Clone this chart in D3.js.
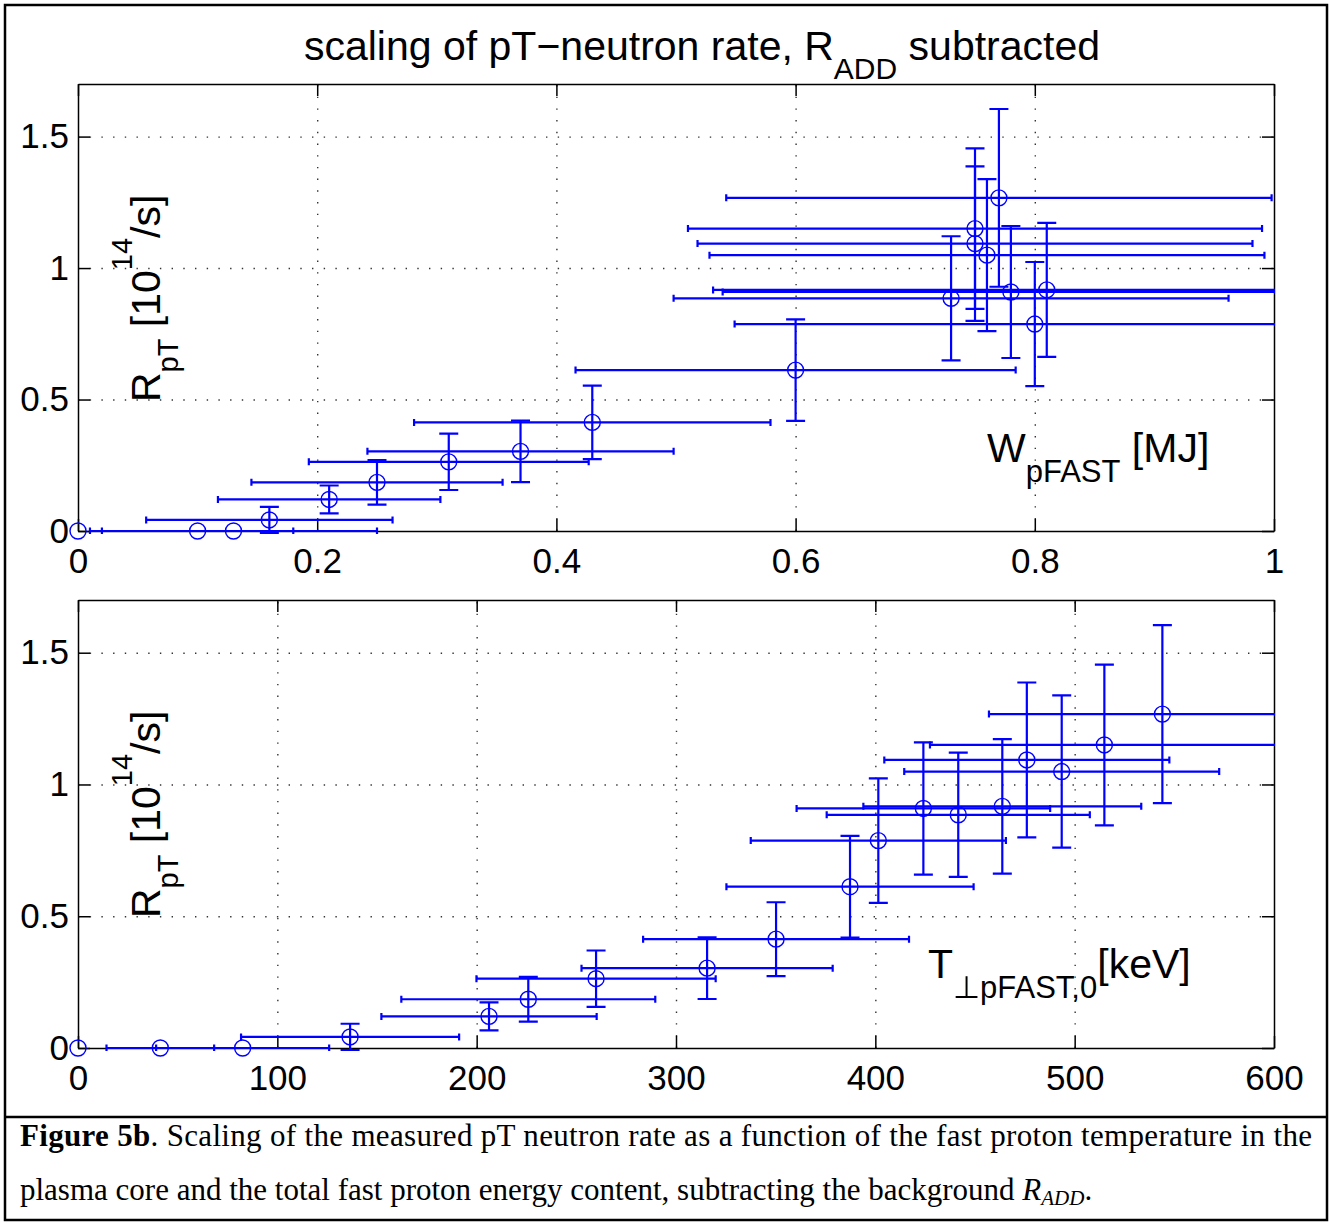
<!DOCTYPE html>
<html lang="en">
<head>
<meta charset="UTF-8">
<title>scaling of pT-neutron rate</title>
<script src="https://d3js.org/d3.v7.min.js"></script>
<style>
  body { margin: 0; background: #fff; }
  svg { display: block; font-family: "Liberation Sans", Arial, Helvetica, sans-serif; }
  .axis path, .axis line { stroke: #000; stroke-width: 1.5; }
  .axis text { font-size: 35px; fill: #000; font-family: "Liberation Sans", Arial, sans-serif; }
  .grid line { stroke: #333; stroke-width: 1.4; stroke-dasharray: 1.4 10.3; }
  .grid path { display: none; }
  .bar { stroke: #0000ff; stroke-width: 2.2; fill: none; }
  .dot { stroke: #0000ff; stroke-width: 1.4; fill: none; }
  .lbl { font-size: 41px; fill: #000; }
  .caption { font-family: "Liberation Serif", "Times New Roman", serif; font-size: 31px; fill: #000; }
</style>
</head>
<body>
<svg width="1330" height="1223"></svg>
<script>
// measured pT neutron rate [10^14/s] and its error (same points in both panels)
const rate    = [0, 0, 0, 0.042, 0.12, 0.185, 0.263, 0.303, 0.413, 0.612, 0.787, 0.885, 0.909, 0.917, 1.049, 1.093, 1.150, 1.267];
const rateErr = [0, 0, 0, 0.05, 0.053, 0.085, 0.107, 0.117, 0.14, 0.193, 0.236, 0.236, 0.251, 0.255, 0.289, 0.294, 0.305, 0.338];

// fast proton energy content W [MJ]
const energy    = [0, 0.10, 0.13, 0.16, 0.21, 0.25, 0.31, 0.37, 0.43, 0.60, 0.80, 0.73, 0.78, 0.81, 0.76, 0.75, 0.75, 0.77];
const energyErr = [0, 0.08, 0.12, 0.103, 0.093, 0.105, 0.117, 0.128, 0.149, 0.184, 0.251, 0.232, 0.241, 0.279, 0.232, 0.232, 0.24, 0.228];

// fast proton temperature T [keV]
const temp    = [0, 41.3, 82.6, 136.5, 206.2, 225.9, 259.9, 315.6, 350.2, 387.3, 401.5, 441.6, 424.1, 463.7, 493.5, 476.0, 514.9, 544.0];
const tempErr = [0, 27, 43.4, 54.7, 54, 63.7, 60, 63, 66.7, 62, 64, 66, 63.6, 69.7, 79, 71.5, 87.5, 87];

const rateTicks   = [0, 0.5, 1, 1.5];
const energyTicks = [0, 0.2, 0.4, 0.6, 0.8, 1];
const tempTicks   = [0, 100, 200, 300, 400, 500, 600];

const svg = d3.select("svg");
const plotW = 1196;
const defs = svg.append("defs");

// outer frame + caption separator
svg.append("rect").attr("x", 5).attr("y", 5).attr("width", 1322).attr("height", 1215)
    .attr("fill", "none").attr("stroke", "#000").attr("stroke-width", 2.5);
svg.append("line").attr("x1", 5).attr("x2", 1327).attr("y1", 1117).attr("y2", 1117)
    .attr("stroke", "#000").attr("stroke-width", 2.5);

function panel(top, h, xs, xe, xDomain, xTicks, id) {
    const g = svg.append("g").attr("transform", "translate(78," + top + ")");
    const x = d3.scaleLinear().domain(xDomain).range([0, plotW]);
    const y = d3.scaleLinear().domain([0, 1.7]).range([h, 0]);

    defs.append("clipPath").attr("id", id).append("rect")
        .attr("x", -3).attr("y", -3).attr("width", plotW + 4).attr("height", h + 6);

    // dotted grid
    g.append("g").attr("class", "grid").attr("transform", "translate(0," + h + ")")
        .call(d3.axisBottom(x).tickValues(xTicks.slice(1, -1)).tickSize(-h).tickFormat(""));
    g.append("g").attr("class", "grid")
        .call(d3.axisLeft(y).tickValues(rateTicks.slice(1)).tickSize(-plotW).tickFormat(""));

    // box with inward ticks
    g.append("g").attr("class", "axis").attr("transform", "translate(0," + h + ")")
        .call(d3.axisBottom(x).tickValues(xTicks).tickSizeInner(-12).tickSizeOuter(0)
            .tickPadding(17).tickFormat(d3.format("~g")));
    g.append("g").attr("class", "axis")
        .call(d3.axisLeft(y).tickValues(rateTicks).tickSizeInner(-12).tickSizeOuter(0)
            .tickPadding(9).tickFormat(d3.format("~g")));
    g.append("g").attr("class", "axis")
        .call(d3.axisTop(x).tickValues(xTicks).tickSizeInner(-12).tickSizeOuter(0).tickFormat(""));
    g.append("g").attr("class", "axis").attr("transform", "translate(" + plotW + ",0)")
        .call(d3.axisRight(y).tickValues(rateTicks).tickSizeInner(-12).tickSizeOuter(0).tickFormat(""));

    const pts = rate.map((r, i) => ({ x: xs[i], xe: xe[i], y: r, ye: rateErr[i] }));
    const bars = g.append("g").attr("clip-path", "url(#" + id + ")");

    // horizontal error bars
    bars.selectAll(".hbar").data(pts.filter(d => d.xe > 0)).join("path")
        .attr("class", "bar")
        .attr("d", d => {
            const x0 = x(d.x - d.xe), x1 = x(d.x + d.xe), yy = y(d.y);
            return "M" + x0 + "," + yy + "H" + x1 +
                "M" + x0 + "," + (yy - 3.5) + "V" + (yy + 3.5) +
                "M" + x1 + "," + (yy - 3.5) + "V" + (yy + 3.5);
        });

    // vertical error bars
    bars.selectAll(".vbar").data(pts.filter(d => d.ye > 0)).join("path")
        .attr("class", "bar")
        .attr("d", d => {
            const xx = x(d.x), y0 = y(d.y - d.ye), y1 = y(d.y + d.ye);
            return "M" + xx + "," + y0 + "V" + y1 +
                "M" + (xx - 9.5) + "," + y0 + "H" + (xx + 9.5) +
                "M" + (xx - 9.5) + "," + y1 + "H" + (xx + 9.5);
        });

    // markers
    g.selectAll(".dot").data(pts).join("circle")
        .attr("class", "dot")
        .attr("cx", d => x(d.x)).attr("cy", d => y(d.y)).attr("r", 8);

    // y label (inside the axes)
    const yl = g.append("text").attr("class", "lbl")
        .attr("transform", "translate(82,318) rotate(-90)");
    yl.append("tspan").text("R");
    yl.append("tspan").attr("font-size", 29).attr("dy", 18).text("pT");
    yl.append("tspan").attr("dy", -18).text(" [10");
    yl.append("tspan").attr("font-size", 29).attr("dy", -28).text("14");
    yl.append("tspan").attr("dy", 28).text("/s]");

    return g;
}

const g1 = panel(84, 447, energy, energyErr, [0, 1], energyTicks, "clipTop");
const g2 = panel(600, 448, temp, tempErr, [0, 600], tempTicks, "clipBottom");

// x labels
const wl = g1.append("text").attr("class", "lbl").attr("x", 909).attr("y", 378);
wl.append("tspan").text("W");
wl.append("tspan").attr("font-size", 31).attr("dy", 20).text("pFAST");
wl.append("tspan").attr("dy", -20).text(" [MJ]");

const tl = g2.append("text").attr("class", "lbl").attr("x", 850).attr("y", 378);
tl.append("tspan").text("T");
tl.append("tspan").attr("font-size", 31).attr("dy", 20).text("\u22A5pFAST,0");
tl.append("tspan").attr("dy", -20).text("[keV]");

// title
const title = svg.append("text").attr("class", "lbl").attr("x", 702).attr("y", 60)
    .attr("text-anchor", "middle");
title.append("tspan").text("scaling of pT\u2212neutron rate, R");
title.append("tspan").attr("font-size", 30).attr("dy", 19).text("ADD");
title.append("tspan").attr("dy", -19).text(" subtracted");

// caption
const c1 = svg.append("text").attr("class", "caption").attr("x", 20).attr("y", 1146)
    .attr("textLength", 1292).attr("lengthAdjust", "spacing");
c1.append("tspan").attr("font-weight", "bold").text("Figure 5b");
c1.append("tspan").text(". Scaling of the measured pT neutron rate as a function of the fast proton temperature in the");

const c2 = svg.append("text").attr("class", "caption").attr("x", 20).attr("y", 1200);
c2.append("tspan").text("plasma core and the total fast proton energy content, subtracting the background ");
c2.append("tspan").attr("font-style", "italic").text("R");
c2.append("tspan").attr("font-style", "italic").attr("font-size", 21).attr("dy", 5).text("ADD");
c2.append("tspan").attr("dy", -5).text(".");
</script>
</body>
</html>
